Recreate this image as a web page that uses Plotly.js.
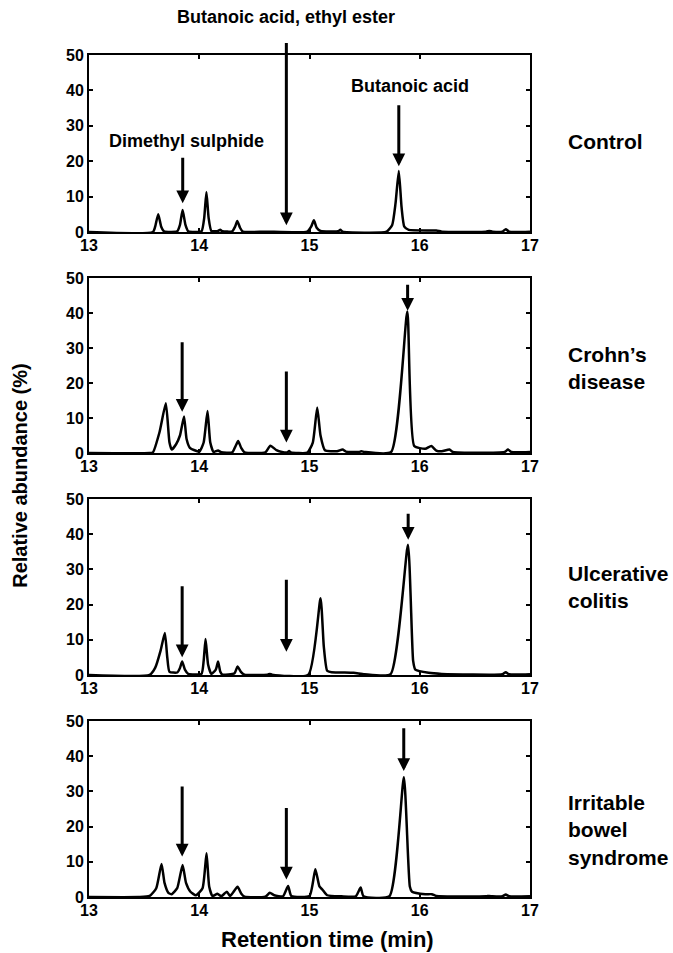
<!DOCTYPE html>
<html>
<head>
<meta charset="utf-8">
<script src="https://cdn.plot.ly/plotly-3.0.1.min.js"></script>
<style>html,body{margin:0;padding:0;background:#fff;}</style>
</head>
<body>
<div id="chart" style="width:673px;height:953px;"></div>
<script>
// ---- Data ----
const panelNames = ["Control", "Crohn\u2019s<br>disease", "Ulcerative<br>colitis", "Irritable<br>bowel<br>syndrome"];

const timeControl = [13.0,13.58,13.60,13.628,13.655,13.68,13.80,13.825,13.849,13.875,13.90,14.02,14.045,14.065,14.085,14.11,14.17,14.19,14.21,14.30,14.325,14.345,14.37,14.395,14.60,14.98,15.015,15.04,15.065,15.10,15.26,15.28,15.30,15.70,15.75,15.78,15.81,15.835,15.86,15.90,16.15,16.20,16.60,16.63,16.66,16.75,16.78,16.81,17.0];
const abundControl = [0,0,1.5,5.0,1.5,0.2,0.2,2,6.2,2,0.2,0.2,4,11.3,4,0.3,0.3,0.6,0.2,0.2,1.5,3.1,1.2,0.1,0.1,0.1,1.5,3.3,1.2,0.3,0.2,0.6,0.1,0.1,2,8,17.2,7,1.5,0.6,0.4,0.1,0.1,0.3,0.1,0.1,0.8,0.1,0.1];

const timeCrohn = [13.0,13.55,13.58,13.64,13.697,13.73,13.75,13.79,13.825,13.862,13.885,13.915,14.0,14.04,14.075,14.10,14.13,14.17,14.20,14.30,14.33,14.353,14.38,14.41,14.60,14.645,14.70,14.75,14.80,14.815,14.83,14.98,15.03,15.07,15.10,15.14,15.25,15.30,15.33,15.45,15.47,15.50,15.74,15.887,15.95,16.05,16.105,16.15,16.20,16.27,16.30,16.77,16.80,16.83,17.0];
const abundCrohn = [0,0,0.2,6,14.2,3,1.0,2.5,5,10.4,4,1.5,0.4,3,12.0,3,0.3,0.7,0.2,0.2,2,3.4,1.5,0.2,0.2,2.1,0.8,0.3,0.2,0.6,0.2,0.1,3,13.0,5,0.8,0.5,1.0,0.4,0.3,0.5,0.3,0.3,40.4,2,1.2,2.0,0.7,0.5,1.0,0.3,0.3,1.0,0.3,0.3];

const timeUC = [13.0,13.55,13.60,13.65,13.688,13.71,13.73,13.80,13.825,13.845,13.87,13.90,14.02,14.04,14.057,14.08,14.11,14.15,14.171,14.19,14.21,14.32,14.347,14.38,14.41,14.62,14.64,14.66,14.99,15.10,15.13,15.16,15.20,15.40,15.50,15.735,15.893,15.94,15.96,16.08,16.20,16.75,16.78,16.81,17.0];
const abundUC = [0,0,2,7,11.9,5,0.9,0.7,2,3.8,1.5,0.3,0.3,4,10.2,3,0.3,1.5,3.8,1,0.1,0.5,2.4,0.8,0.1,0.1,0.3,0.1,0.1,21.8,8,1.2,0.8,0.6,0.2,0.2,37.0,4,1.5,0.6,0.3,0.2,0.8,0.2,0.2];

const timeIBS = [13.0,13.45,13.55,13.61,13.658,13.685,13.72,13.75,13.80,13.849,13.88,13.92,13.97,14.03,14.066,14.09,14.12,14.165,14.20,14.25,14.28,14.347,14.38,14.41,14.60,14.64,14.68,14.76,14.806,14.835,15.00,15.053,15.09,15.12,15.16,15.29,15.42,15.464,15.49,15.725,15.856,15.91,15.93,16.05,16.11,16.15,16.60,16.63,16.66,16.75,16.78,16.81,17.0];
const abundIBS = [0,0,0.3,2.5,9.4,4,1.2,0.8,2.5,9.1,4,1.5,0.5,2.5,12.4,3,0.3,0.9,0.2,1.5,0.3,2.9,1.0,0.1,0.1,1.2,0.5,0.2,3.1,0.3,0.3,7.9,3,2.0,0.5,0.2,0.2,2.7,0.2,0.2,34.0,3,1.5,0.8,0.8,0.3,0.2,0.3,0.2,0.2,0.7,0.2,0.2];

// arrows: x position (min), tail and tip (relative abundance) per panel
const arrowX    = [[13.85, 14.79, 15.81], [13.845, 14.79, 15.89], [13.845, 14.79, 15.895], [13.845, 14.79, 15.855]];
const arrowTail = [[21.4, 53.8, 36.2], [32.1, 23.7, 48.5], [25.6, 27.5, 46.2], [31.8, 25.7, 48.4]];
const arrowTip  = [[8.1, 1.9, 18.6], [11.8, 3.0, 40.6], [5.0, 6.6, 38.4], [11.5, 5.0, 35.8]];

const xTicks = [13, 14, 15, 16, 17];
const yTicks = [0, 10, 20, 30, 40, 50];

// ---- Build ----
const series = [[timeControl, abundControl], [timeCrohn, abundCrohn], [timeUC, abundUC], [timeIBS, abundIBS]];
const domains = [[0.7898, 1.0], [0.5273, 0.7352], [0.2637, 0.4727], [0.0, 0.2090]];
const labelY = [0.8967, 0.6283, 0.3676, 0.0796];
const FONT = "Liberation Sans, Arial, sans-serif";

const traces = series.map((s, i) => ({
  x: s[0], y: s[1], type: "scatter", mode: "lines",
  line: {color: "#000", width: 2.5, shape: "spline", smoothing: 0.5},
  xaxis: "x" + (i === 0 ? "" : i + 1), yaxis: "y" + (i === 0 ? "" : i + 1),
  hoverinfo: "skip", showlegend: false
}));

const layout = {
  width: 673, height: 953,
  margin: {l: 89, r: 142.5, t: 55, b: 56},
  paper_bgcolor: "#fff", plot_bgcolor: "#fff",
  font: {family: FONT, color: "#000"},
  showlegend: false,
  annotations: []
};

for (let i = 0; i < 4; i++) {
  const sx = i === 0 ? "" : String(i + 1);
  layout["xaxis" + sx] = {
    range: [13, 17], tickvals: xTicks, ticktext: xTicks.map(String),
    anchor: "y" + sx, domain: [0, 1],
    showline: true, linecolor: "#000", linewidth: 2, mirror: "ticks",
    ticks: "inside", ticklen: 4, tickwidth: 2, tickcolor: "#000",
    showgrid: false, zeroline: false, ticklabelstandoff: -2,
    tickfont: {family: FONT, size: 16, weight: "bold", color: "#000"}
  };
  layout["yaxis" + sx] = {
    range: [0, 50], tickvals: yTicks, ticktext: yTicks.map(String),
    anchor: "x" + sx, domain: domains[i],
    showline: true, linecolor: "#000", linewidth: 2, mirror: "ticks",
    ticks: "inside", ticklen: 4, tickwidth: 2, tickcolor: "#000",
    showgrid: false, zeroline: false,
    tickfont: {family: FONT, size: 16, weight: "bold", color: "#000"}
  };
  // arrows
  for (let k = 0; k < 3; k++) {
    layout.annotations.push({
      xref: "x" + sx, yref: "y" + sx, axref: "x" + sx, ayref: "y" + sx,
      x: arrowX[i][k], y: arrowTip[i][k], ax: arrowX[i][k], ay: arrowTail[i][k],
      text: "", showarrow: true, arrowhead: 2, arrowsize: 0.85, arrowwidth: 3,
      arrowcolor: "#000", standoff: 0, startstandoff: 0
    });
  }
  // group label
  layout.annotations.push({
    xref: "paper", yref: "paper", x: 1.0827, y: labelY[i],
    xanchor: "left", yanchor: "middle", align: "left",
    text: panelNames[i], showarrow: false,
    font: {family: FONT, size: 21, weight: "bold", color: "#000"}
  });
}

// compound labels
const labelFont = {family: FONT, size: 18, weight: "bold", color: "#000"};
layout.annotations.push(
  {xref: "x", yref: "paper", x: 14.79, y: 1.045, text: "Butanoic acid, ethyl ester", showarrow: false,
   xanchor: "center", yanchor: "middle", font: labelFont},
  {xref: "x", yref: "y", x: 15.91, y: 41.3, text: "Butanoic acid", showarrow: false,
   xanchor: "center", yanchor: "middle", font: labelFont},
  {xref: "x", yref: "y", x: 13.88, y: 25.6, text: "Dimethyl sulphide", showarrow: false,
   xanchor: "center", yanchor: "middle", font: labelFont},
  {xref: "paper", yref: "paper", x: -0.155, y: 0.501, text: "Relative abundance (%)", showarrow: false,
   textangle: -90, xanchor: "center", yanchor: "middle",
   font: {family: FONT, size: 20, weight: "bold", color: "#000"}},
  {xref: "paper", yref: "paper", x: 0.54, y: -0.05, text: "Retention time (min)", showarrow: false,
   xanchor: "center", yanchor: "middle",
   font: {family: FONT, size: 22, weight: "bold", color: "#000"}}
);

Plotly.newPlot("chart", traces, layout, {staticPlot: true, displayModeBar: false});
</script>
</body>
</html>
